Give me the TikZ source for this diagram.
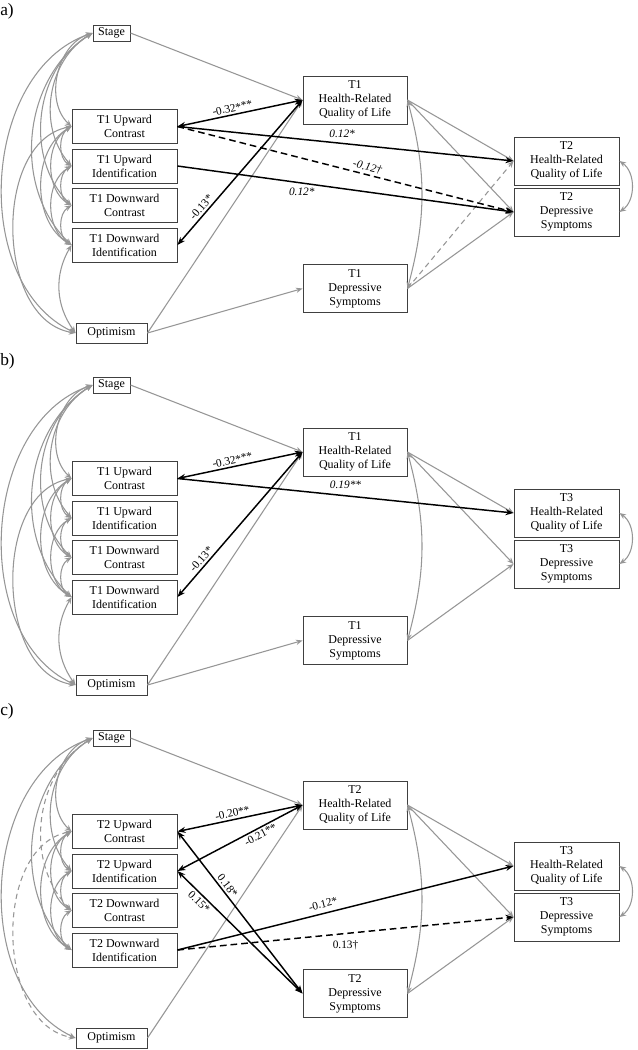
\documentclass[tikz,border=0pt]{standalone}
\usepackage{fontspec}
\setmainfont{Liberation Serif}
\usetikzlibrary{arrows.meta}
\definecolor{linegray}{RGB}{150,150,150}
\definecolor{boxgray}{RGB}{64,64,64}
\tikzset{
  pbox/.style={draw=boxgray, line width=0.7pt, inner sep=0pt, align=center, fill=white,
    font=\fontsize{9}{10.5}\selectfont},
  sbox/.style={pbox, minimum width=27.75pt, minimum height=12pt},
  cbox/.style={pbox, minimum width=78.75pt, minimum height=25.5pt},
  obox/.style={pbox, minimum width=53.25pt, minimum height=15pt},
  mbox/.style={pbox, minimum width=78pt, minimum height=36pt},
  gtip/.tip={Stealth[length=5pt,width=4pt]},
  btip/.tip={Stealth[length=6pt,width=4.5pt]},
  garr/.style={draw=linegray, line width=0.8pt, -gtip},
  gcov/.style={draw=linegray, line width=0.8pt, gtip-gtip},
  barr/.style={draw=black, line width=1.1pt, -btip},
  bcov/.style={draw=black, line width=1.1pt, btip-btip},
  gdash/.style={dash pattern=on 4pt off 3pt},
  bdash/.style={dash pattern=on 5pt off 3pt},
  lab/.style={font=\fontsize{8.5}{10}\selectfont, inner sep=1.5pt},
  ilab/.style={font=\fontsize{8.5}{10}\selectfont\itshape, inner sep=1.5pt},
  plab/.style={font=\fontsize{13}{15}\selectfont, inner sep=0pt, anchor=north west},
}
\newcommand\panelboxes[5]{%
  \begin{scope}[shift={(0,#2)}]
    \node[sbox] (#1S) at (111.5,-33) {Stage};
    \node[cbox] (#1UC) at (124.5,-126.5) {#3 Upward\\Contrast};
    \node[cbox] (#1UI) at (124.5,-166) {#3 Upward\\Identification};
    \node[cbox] (#1DC) at (124.5,-205.5) {#3 Downward\\Contrast};
    \node[cbox] (#1DI) at (124.5,-245) {#3 Downward\\Identification};
    \node[obox] (#1O) at (111.5,-333) {Optimism};
    \node[mbox] (#1H) at (355,-100) {#4\\Health-Related\\Quality of Life};
    \node[mbox] (#1D) at (355,-288.5) {#4\\Depressive\\Symptoms};
    \node[mbox, minimum width=78.75pt] (#1HH) at (566.5,-161) {#5\\Health-Related\\Quality of Life};
    \node[mbox, minimum width=78.75pt] (#1DD) at (566.5,-212) {#5\\Depressive\\Symptoms};
  \end{scope}}
\newcommand\commoncov[1]{%
  \draw[gcov] (#1S.west) to[bend right=60] (#1UC.west);
  \draw[gcov] (#1S.west) to[bend right=50] (#1UI.west);
  \draw[gcov] (#1S.west) to[bend right=52] (#1DI.west);
  \draw[gcov] (#1S.west) to[bend right=68] (#1O.west);
  \draw[gcov] (#1UC.west) to[bend right=60] (#1UI.west);
  \draw[gcov] (#1UC.west) to[bend right=60] (#1DC.west);
  \draw[gcov] (#1UC.west) to[bend right=60] (#1DI.west);
  \draw[gcov] (#1UI.west) to[bend right=60] (#1DC.west);
  \draw[gcov] (#1UI.west) to[bend right=60] (#1DI.west);
  \draw[gcov] (#1DC.west) to[bend right=60] (#1DI.west);
}
\newcommand\rightside[1]{%
  \draw[garr] (#1S.east) -- (#1H.west);
  \draw[garr] (#1O.east) -- (#1H.west);
  \draw[garr] (#1H.east) -- (#1HH.west);
  \draw[garr] (#1H.east) -- (#1DD.west);
  \draw[garr] (#1D.east) -- (#1DD.west);
  \draw[gcov] (#1H.east) to[bend left=15] (#1D.east);
  \draw[gcov] (#1HH.east) to[bend left=55] (#1DD.east);
}
\begin{document}
\begin{tikzpicture}[x=0.75pt,y=0.75pt]
\path[use as bounding box] (0,0) rectangle (637,-1050);

% ---------------- panel a ----------------
\node[plab] (pa) at (0,-3) {a)};
\panelboxes{a}{0}{T1}{T1}{T2}
\commoncov{a}
\draw[gcov] (aS.west) to[bend right=52] (aDC.west);
\draw[gcov] (aUC.west) to[bend right=80] (aO.west);
\draw[gcov] (aDI.west) to[bend right=33] (aO.west);
\rightside{a}
\draw[garr] (aO.east) -- (aD.west);
\draw[garr, gdash] (aD.east) -- (aHH.west);
\draw[bcov] (aUC.east) -- node[lab, sloped, above, pos=0.45] (la1) {-0.32***} (aH.west);
\draw[bcov] (aDI.east) -- node[lab, sloped, above, pos=0.23] (la2) {-0.13*} (aH.west);
\draw[barr] (aUC.east) -- node[ilab, above=2pt, pos=0.49] (la3) {0.12*} (aHH.west);
\draw[barr, bdash] (aUC.east) -- node[ilab, sloped, above, pos=0.56] (la4) {-0.12\dag} (aDD.west);
\draw[barr] (aUI.east) -- node[ilab, below=2pt, pos=0.37] (la5) {0.12*} (aDD.west);

% ---------------- panel b ----------------
\node[plab] (pb) at (0,-353) {b)};
\panelboxes{b}{-352}{T1}{T1}{T3}
\commoncov{b}
\draw[gcov] (bS.west) to[bend right=52] (bDC.west);
\draw[gcov] (bUC.west) to[bend right=80] (bO.west);
\draw[gcov] (bDI.west) to[bend right=33] (bO.west);
\rightside{b}
\draw[garr] (bO.east) -- (bD.west);
\draw[bcov] (bUC.east) -- node[lab, sloped, above, pos=0.45] (lb1) {-0.32***} (bH.west);
\draw[bcov] (bDI.east) -- node[lab, sloped, above, pos=0.23] (lb2) {-0.13*} (bH.west);
\draw[barr] (bUC.east) -- node[ilab, above=3pt, pos=0.5] (lb3) {0.19**} (bHH.west);

% ---------------- panel c ----------------
\node[plab] (pc) at (0,-703) {c)};
\panelboxes{c}{-705}{T2}{T2}{T3}
\commoncov{c}
\draw[gcov, gdash] (cS.west) to[bend right=52] (cDC.west);
\draw[gcov, gdash] (cUC.west) to[bend right=80] (cO.west);
\rightside{c}
\draw[bcov] (cUC.east) -- node[lab, sloped, above, pos=0.45] (lc1) {-0.20**} (cH.west);
\draw[bcov] (cUI.east) -- node[lab, sloped, below, pos=0.64] (lc2) {-0.21**} (cH.west);
\draw[bcov] (cUC.east) -- node[lab, sloped, above, pos=0.36] (lc3) {0.18*} (cD.west);
\draw[bcov] (cUI.east) -- node[lab, sloped, below, pos=0.21] (lc4) {0.15*} (cD.west);
\draw[barr] (cDI.east) -- node[lab, sloped, above=2pt, pos=0.44] (lc5) {-0.12*} (cHH.west);
\draw[barr, bdash] (cDI.east) -- node[lab, below=3pt, pos=0.5] (lc6) {0.13\dag} (cDD.west);
\end{tikzpicture}
\end{document}
